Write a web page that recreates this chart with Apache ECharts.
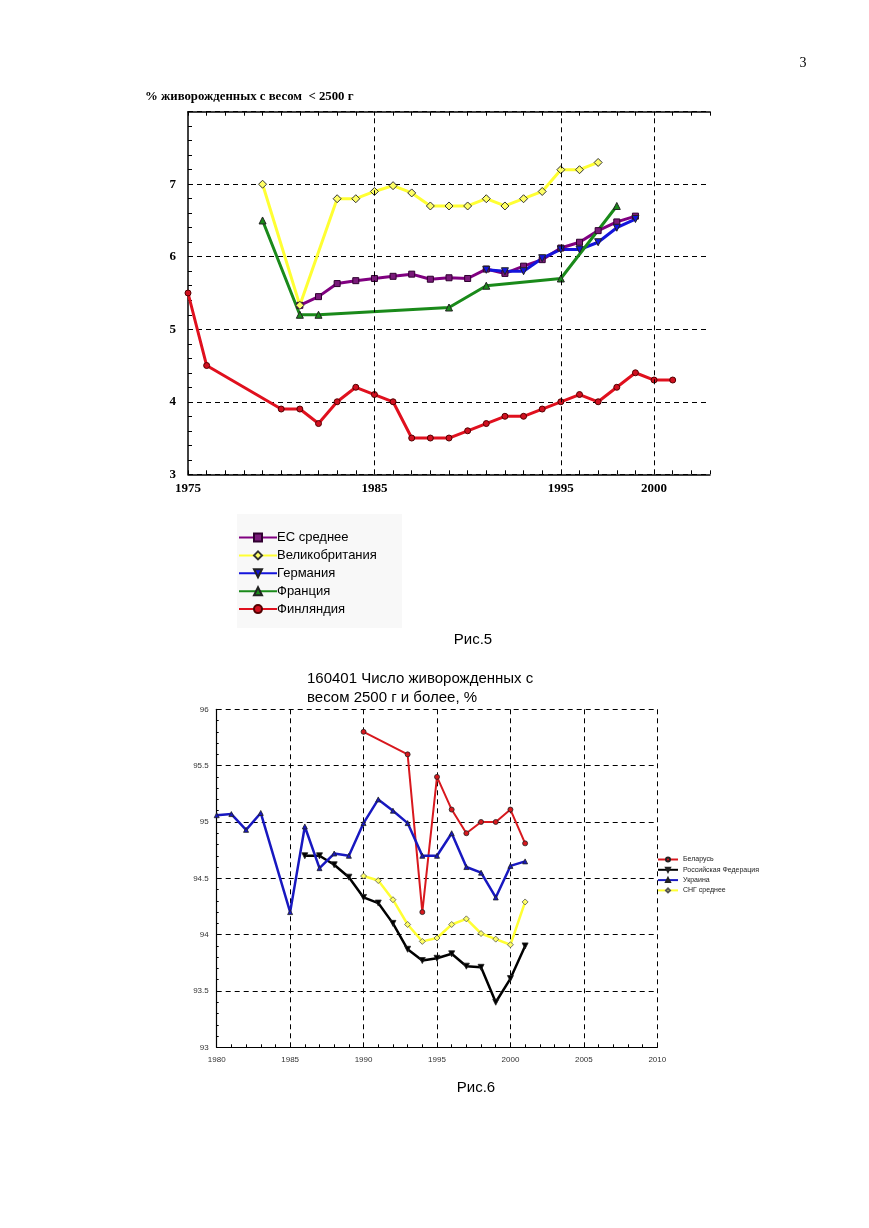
<!DOCTYPE html>
<html><head><meta charset="utf-8">
<script src="https://cdn.jsdelivr.net/npm/echarts@6/dist/echarts.min.js"></script>
<style>html,body{margin:0;padding:0;background:#fff}#c{width:869px;height:1228px}</style>
</head><body><div id="c"></div>
<script>
// ---- Рис.5 data ----
const euYears = [1981,1982,1983,1984,1985,1986,1987,1988,1989,1990,1991,1992,1993,1994,1995,1996,1997,1998,1999];
const euVals  = [5.33,5.45,5.63,5.67,5.70,5.73,5.76,5.69,5.71,5.70,5.83,5.77,5.87,5.96,6.12,6.20,6.36,6.48,6.56];
const ukYears = [1979,1981,1983,1984,1985,1986,1987,1988,1989,1990,1991,1992,1993,1994,1995,1996,1997];
const ukVals  = [7.0,5.33,6.8,6.8,6.9,6.98,6.88,6.7,6.7,6.7,6.8,6.7,6.8,6.9,7.2,7.2,7.3];
const deYears = [1991,1992,1993,1994,1995,1996,1997,1998,1999];
const deVals  = [5.82,5.8,5.8,5.98,6.1,6.1,6.2,6.4,6.52];
const frYears = [1979,1981,1982,1989,1991,1995,1998];
const frVals  = [6.5,5.2,5.2,5.3,5.6,5.7,6.7];
const fiYears = [1975,1976,1980,1981,1982,1983,1984,1985,1986,1987,1988,1989,1990,1991,1992,1993,1994,1995,1996,1997,1998,1999,2000,2001];
const fiVals  = [5.5,4.5,3.9,3.9,3.7,4.0,4.2,4.1,4.0,3.5,3.5,3.5,3.6,3.7,3.8,3.8,3.9,4.0,4.1,4.0,4.2,4.4,4.3,4.3];
const topLabelYears = [1975,1985,1995,2000];
const topGridYears = [1985,1995,2000];
const topNames = ['ЕС среднее','Великобритания','Германия','Франция','Финляндия'];

// ---- Рис.6 data ----
const byYears = [1990,1993,1994,1995,1996,1997,1998,1999,2000,2001];
const byVals  = [95.8,95.6,94.2,95.4,95.11,94.9,95.0,95.0,95.11,94.81];
const ruYears = [1986,1987,1988,1989,1990,1991,1992,1993,1994,1995,1996,1997,1998,1999,2000,2001];
const ruVals  = [94.7,94.7,94.62,94.51,94.33,94.28,94.10,93.87,93.77,93.79,93.83,93.72,93.71,93.40,93.61,93.90];
const uaYears = [1980,1981,1982,1983,1985,1986,1987,1988,1989,1990,1991,1992,1993,1994,1995,1996,1997,1998,1999,2000,2001];
const uaVals  = [95.06,95.07,94.93,95.08,94.2,94.96,94.59,94.72,94.7,94.99,95.2,95.1,94.99,94.7,94.7,94.9,94.6,94.55,94.33,94.61,94.65];
const cisYears = [1990,1991,1992,1993,1994,1995,1996,1997,1998,1999,2000,2001];
const cisVals  = [94.52,94.48,94.31,94.09,93.94,93.97,94.09,94.14,94.01,93.96,93.91,94.29];
const botNames = ['Беларусь','Российская Федерация','Украина','СНГ среднее'];

const pairs = (xs, ys) => xs.map((x, i) => [x, ys[i]]);
const dash = [5, 4];
const serif = '"Liberation Serif","Times New Roman",serif';
const sans = '"Liberation Sans",Arial,sans-serif';

const chart = echarts.init(document.getElementById('c'), null, {renderer: 'canvas'});

function topSeries(name, xs, ys, color, symbol, size, extra) {
  return Object.assign({
    name, type: 'line', xAxisIndex: 0, yAxisIndex: 0, z: 3,
    data: pairs(xs, ys), symbol, symbolSize: size, showAllSymbol: true,
    lineStyle: {color, width: 3},
    itemStyle: {color, borderColor: '#222', borderWidth: 1}
  }, extra || {});
}
function botSeries(name, xs, ys, color, symbol, size, width, extra) {
  return Object.assign({
    name, type: 'line', xAxisIndex: 2, yAxisIndex: 2, z: 3,
    data: pairs(xs, ys), symbol, symbolSize: size, showAllSymbol: true,
    lineStyle: {color, width},
    itemStyle: {color, borderColor: '#222', borderWidth: 0.8}
  }, extra || {});
}

const option = {
  animation: false,
  backgroundColor: '#fff',
  title: [
    {text: '% живорожденных с весом  < 2500 г', left: 145, top: 90, padding: 0,
     textStyle: {fontFamily: serif, fontWeight: 'bold', fontSize: 12.8, color: '#000'}},
    {text: '160401 Число живорожденных с\nвесом 2500 г и более, %', left: 307, top: 669, padding: 0,
     textStyle: {fontFamily: sans, fontWeight: 'normal', fontSize: 15, lineHeight: 19, color: '#000'}}
  ],
  graphic: [
    {type: 'rect', shape: {x: 237, y: 514, width: 165, height: 114}, style: {fill: '#f8f8f8'}, z: -10},
    {type: 'text', x: 803, y: 63, style: {text: '3', font: '14px ' + serif, fill: '#000', textAlign: 'center', textVerticalAlign: 'middle'}},
    {type: 'text', x: 473, y: 640, style: {text: 'Рис.5', font: '15px ' + sans, fill: '#000', textAlign: 'center', textVerticalAlign: 'middle'}},
    {type: 'text', x: 476, y: 1088, style: {text: 'Рис.6', font: '15px ' + sans, fill: '#000', textAlign: 'center', textVerticalAlign: 'middle'}}
  ],
  legend: [
    {data: topNames, orient: 'vertical', left: 238, top: 531, padding: 0,
     itemWidth: 38, itemHeight: 10, itemGap: 4.9,
     textStyle: {fontFamily: sans, fontSize: 13, color: '#000', padding: [0, 0, 0, -5]}},
    {data: botNames, orient: 'vertical', left: 657, top: 856, padding: 0,
     itemWidth: 20, itemHeight: 5, itemGap: 3.3,
     textStyle: {fontFamily: sans, fontSize: 7, color: '#222'}}
  ],
  grid: [
    {left: 188, top: 111.7, width: 522, height: 362.6},
    {left: 216.7, top: 709.3, width: 440.6, height: 338}
  ],
  xAxis: [
    {gridIndex: 0, type: 'value', min: 1975, max: 2003, interval: 1, position: 'bottom',
     axisLine: {lineStyle: {color: '#000', width: 1.5}},
     axisTick: {inside: true, length: 4, lineStyle: {color: '#000'}},
     axisLabel: {formatter: v => topLabelYears.includes(v) ? String(v) : '',
       fontFamily: serif, fontWeight: 'bold', fontSize: 13, color: '#000', margin: 8},
     splitLine: {show: false}},
    {gridIndex: 0, type: 'value', min: 1975, max: 2003, interval: 1, position: 'top',
     axisLine: {lineStyle: {color: '#000', width: 1.5}},
     axisTick: {inside: true, length: 4, lineStyle: {color: '#000'}},
     axisLabel: {show: false}, splitLine: {show: false}},
    {gridIndex: 1, type: 'value', min: 1980, max: 2010, interval: 5, position: 'bottom',
     axisLine: {lineStyle: {color: '#000', width: 1.2}},
     axisTick: {inside: true, length: 3, lineStyle: {color: '#000'}},
     minorTick: {show: true, splitNumber: 5, length: 3, lineStyle: {color: '#000'}},
     axisLabel: {formatter: v => String(v), fontFamily: sans, fontSize: 8, color: '#333', margin: 8},
     splitLine: {show: true, lineStyle: {color: '#000', type: dash, width: 1}}}
  ],
  yAxis: [
    {gridIndex: 0, type: 'value', min: 3, max: 8, interval: 1, position: 'left',
     axisLine: {show: true, lineStyle: {color: '#000', width: 1.5}},
     axisTick: {show: false},
     axisLabel: {formatter: v => v === 8 ? '' : String(v), fontFamily: serif, fontWeight: 'bold', fontSize: 13, color: '#000', margin: 12},
     splitLine: {show: true, lineStyle: {color: '#000', type: dash, width: 1}}},
    {gridIndex: 0, type: 'value', min: 3, max: 8, interval: 0.2, position: 'left',
     axisLine: {show: false},
     axisTick: {show: true, inside: true, length: 4, lineStyle: {color: '#000'}},
     axisLabel: {show: false}, splitLine: {show: false}},
    {gridIndex: 1, type: 'value', min: 93, max: 96, interval: 0.5, position: 'left',
     axisLine: {show: true, lineStyle: {color: '#000', width: 1.2}},
     axisTick: {show: true, inside: true, length: 3, lineStyle: {color: '#000'}},
     minorTick: {show: true, splitNumber: 5, length: 2, lineStyle: {color: '#000'}},
     axisLabel: {formatter: v => String(v), fontFamily: sans, fontSize: 8, color: '#333', margin: 8},
     splitLine: {show: true, lineStyle: {color: '#000', type: dash, width: 1}}}
  ],
  series: [
    {name: 'grid5', type: 'line', xAxisIndex: 0, yAxisIndex: 0, data: [], z: 1,
     markLine: {silent: true, symbol: 'none', label: {show: false},
       lineStyle: {color: '#000', type: dash, width: 1},
       data: topGridYears.map(y => ({xAxis: y}))}},
    topSeries('ЕС среднее', euYears, euVals, '#800080', 'rect', 6, {itemStyle: {color: '#7a1a7a', borderColor: '#300030', borderWidth: 1}}),
    topSeries('Великобритания', ukYears, ukVals, '#ffff33', 'diamond', 8, {itemStyle: {color: '#ffff66', borderColor: '#333', borderWidth: 1}}),
    topSeries('Германия', deYears, deVals, '#1414dc', 'triangle', 7, {symbolRotate: 180}),
    topSeries('Франция', frYears, frVals, '#1a8a1a', 'triangle', 7),
    topSeries('Финляндия', fiYears, fiVals, '#e0101e', 'circle', 6, {itemStyle: {color: '#d01020', borderColor: '#500', borderWidth: 1}}),
    botSeries('Беларусь', byYears, byVals, '#d8181e', 'circle', 5, 2),
    botSeries('Российская Федерация', ruYears, ruVals, '#000000', 'triangle', 6, 2.5, {symbolRotate: 180}),
    botSeries('Украина', uaYears, uaVals, '#1818c0', 'triangle', 5, 2.5),
    botSeries('СНГ среднее', cisYears, cisVals, '#ffff33', 'diamond', 6, 2.5, {itemStyle: {color: '#ffff66', borderColor: '#555', borderWidth: 0.8}})
  ]
};
chart.setOption(option);
</script>
</body></html>
